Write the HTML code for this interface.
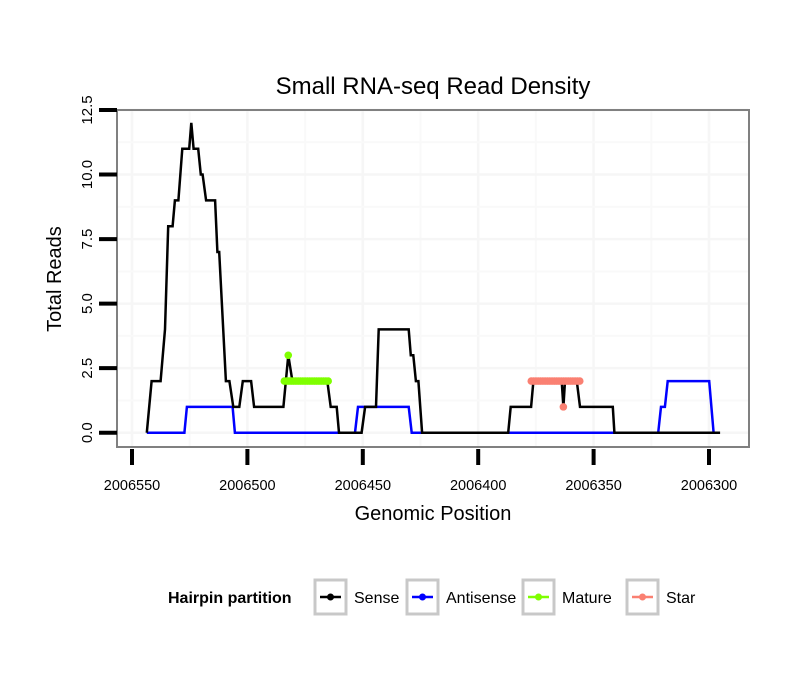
<!DOCTYPE html>
<html><head><meta charset="utf-8"><style>
body{margin:0;background:#fff;}
svg text{font-family:"Liberation Sans",sans-serif;}
</style></head><body>
<svg id="chart" width="810" height="690" xmlns="http://www.w3.org/2000/svg">
<rect x="117" y="110" width="632" height="337" fill="#fff"/>
<g id="grid"></g>
<g id="series"></g>
<rect x="117" y="110" width="632" height="337" fill="none" stroke="#808080" stroke-width="2"/>
<g id="axes"></g>
<text x="433" y="94" font-size="24" text-anchor="middle">Small RNA-seq Read Density</text>
<text x="433" y="520" font-size="20" text-anchor="middle">Genomic Position</text>
<text transform="translate(61,279) rotate(-90)" font-size="20" text-anchor="middle">Total Reads</text>
<g id="legend">
<text x="168" y="603" font-size="16" font-weight="bold">Hairpin partition</text>
</g>
</svg>
<script>
const xTicks=[2006550,2006500,2006450,2006400,2006350,2006300];
const yTicks=[0,2.5,5,7.5,10,12.5];
const yTickLabels=["0.0","2.5","5.0","7.5","10.0","12.5"];
const senseX=[2006543.6,2006541.5,2006537.6,2006535.7,2006534.3,2006532.4,2006531.4,2006529.9,2006528.2,2006525.2,2006524.3,2006523.3,2006521.3,2006520.2,2006519.4,2006517.9,2006514.0,2006513.0,2006512.2,2006509.3,2006507.8,2006506.1,2006503.5,2006502.0,2006498.4,2006497.1,2006484.4,2006482.3,2006480.5,2006465.4,2006463.9,2006461.3,2006460.3,2006450.5,2006449.0,2006444.3,2006443.1,2006430.1,2006429.2,2006428.1,2006427.0,2006425.9,2006424.3,2006387.0,2006385.9,2006377.1,2006376.1,2006363.8,2006363.1,2006362.4,2006357.3,2006355.9,2006341.7,2006341.0,2006295.2];
const senseY=[0,2,2,4,8,8,9,9,11,11,12,11,11,10,10,9,9,7,7,2,2,1,1,2,2,1,1,3,2,2,1,1,0,0,1,1,4,4,3,3,2,2,0,0,1,1,2,2,1,2,2,1,1,0,0];
const antiX=[2006543.6,2006527.3,2006526.2,2006506.4,2006505.4,2006453.4,2006452.1,2006430.1,2006428.8,2006322.0,2006320.8,2006319.1,2006317.9,2006299.9,2006298.0];
const antiY=[0,0,1,1,0,0,1,1,0,0,1,1,2,2,0];
const matureX=[2006484,2006483,2006482,2006481,2006480,2006479,2006478,2006477,2006476,2006475,2006474,2006473,2006472,2006471,2006470,2006469,2006468,2006467,2006466,2006465,2006482.3];
const matureY=[2,2,2,2,2,2,2,2,2,2,2,2,2,2,2,2,2,2,2,2,3];
const starX=[2006377,2006376,2006375,2006374,2006373,2006372,2006371,2006370,2006369,2006368,2006367,2006366,2006365,2006364,2006363,2006362,2006361,2006360,2006359,2006358,2006357,2006356,2006363.1];
const starY=[2,2,2,2,2,2,2,2,2,2,2,2,2,2,2,2,2,2,2,2,2,2,1];
const NS="http://www.w3.org/2000/svg";
function xs(v){return 132+(2006550-v)*(577/250);}
function ys(v){return 432.7-v*(322.7/12.5);}
function mk(tag,attrs,parent){const e=document.createElementNS(NS,tag);for(const k in attrs)e.setAttribute(k,attrs[k]);parent.appendChild(e);return e;}
const grid=document.getElementById('grid'),axes=document.getElementById('axes'),ser=document.getElementById('series'),leg=document.getElementById('legend');
for(let i=0;i<xTicks.length;i++){
 const x=xs(xTicks[i]);
 const g=mk('line',{x1:x,x2:x,y1:111,y2:446,stroke:'#f6f6f6','stroke-width':2.5},grid);
 
 
 if(i<xTicks.length-1){const xm=xs(xTicks[i]-25);const gm=mk('line',{x1:xm,x2:xm,y1:111,y2:446,stroke:'#f9f9f9','stroke-width':2},grid);
 
 }
 const t=mk('line',{x1:x,x2:x,y1:449,y2:465,stroke:'#000','stroke-width':4},axes);
 
 
 const l=mk('text',{x:x,y:490,'font-size':14.5,'text-anchor':'middle'},axes);l.textContent=xTicks[i];
 
 
}
for(let i=0;i<yTicks.length;i++){
 const y=ys(yTicks[i]);
 const g=mk('line',{x1:118,x2:748,y1:y,y2:y,stroke:'#f6f6f6','stroke-width':2.5},grid);
 
 
 if(i<yTicks.length-1){const ym=ys(yTicks[i]+1.25);const gm=mk('line',{x1:118,x2:748,y1:ym,y2:ym,stroke:'#f9f9f9','stroke-width':2},grid);
 
 }
 const t=mk('line',{x1:99,x2:117,y1:y,y2:y,stroke:'#000','stroke-width':4},axes);
 
 
 const l=mk('text',{transform:`translate(92,${y}) rotate(-90)`,'font-size':15,'text-anchor':'middle'},axes);l.textContent=yTickLabels[i];
 
 
}
function line(X,Y,color,name){
 const d=X.map((v,i)=>(i?'L':'M')+xs(v).toFixed(1)+','+ys(Y[i]).toFixed(1)).join('');
 const p=mk('path',{d:d,fill:'none',stroke:color,'stroke-width':2.5,'stroke-linejoin':'miter'},ser);
 
 
}
function pts(X,Y,color,name){
 for(let i=0;i<X.length;i++){const c=mk('circle',{cx:xs(X[i]),cy:ys(Y[i]),r:3.8,fill:color},ser);
 
 }
}
line(antiX,antiY,'#0000ff','antisense-line');
line(senseX,senseY,'#000','sense-line');
pts(matureX,matureY,'#7fff00','mature-point');
pts(starX,starY,'#fa8072','star-point');
const entries=[['Sense','#000',315],['Antisense','#0000ff',407],['Mature','#7fff00',523],['Star','#fa8072',627]];
for(const [n,c,x] of entries){
 const b=mk('rect',{x:x,y:580,width:31,height:34,fill:'#fff',stroke:'#c8c8c8','stroke-width':3},leg);
 
 
 const ln=mk('line',{x1:x+5,x2:x+26,y1:597,y2:597,stroke:c,'stroke-width':2.5},leg);
 
 
 const ci=mk('circle',{cx:x+15.5,cy:597,r:3.5,fill:c},leg);
 
 
 const t=mk('text',{x:x+39,y:603,'font-size':16},leg);t.textContent=n;
 
 
}
</script>
</body></html>
